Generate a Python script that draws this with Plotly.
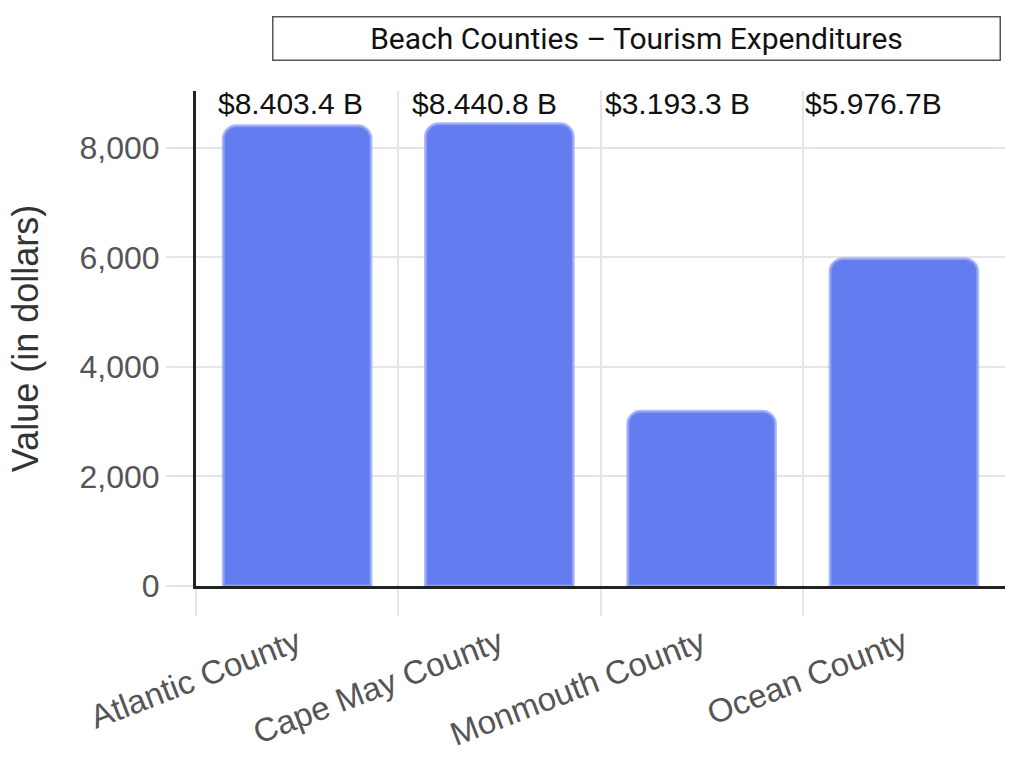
import plotly.graph_objects as go

# Tourism expenditures by beach county (millions of dollars)
counties = ["Atlantic County", "Cape May County", "Monmouth County", "Ocean County"]
values = [8403.4, 8440.8, 3193.3, 5976.7]
value_labels = ["$8.403.4 B", "$8.440.8 B", "$3.193.3 B", "$5.976.7B"]
label_offsets = [0.10, 0.06, 0.01, 0.0]   # label start inside each category slot

y_ticks = [0, 2000, 4000, 6000, 8000]
y_ticktext = ["0", "2,000", "4,000", "6,000", "8,000"]

positions = [i + 0.5 for i in range(len(counties))]
boundaries = [i for i in range(len(counties))]

sans = "Liberation Sans, Arial, Helvetica, sans-serif"
tick_font = dict(family=sans, size=32, color="#555555")

fig = go.Figure()
fig.add_trace(go.Bar(
    x=positions,
    y=values,
    width=0.73,
    marker=dict(color="#637cef", cornerradius=13,
                line=dict(color="rgba(150,166,245,0.75)", width=3)),
    hoverinfo="skip",
))

for i, (lab, off) in enumerate(zip(value_labels, label_offsets)):
    fig.add_annotation(
        x=boundaries[i] + off, y=1.0, xref="x", yref="paper",
        text=lab, showarrow=False, xanchor="left", yanchor="top",
        yshift=6,
        font=dict(family=sans, size=30, color="#111111"),
    )

fig.add_annotation(
    x=0.544, y=1.107, xref="paper", yref="paper",
    text="Beach Counties \u2013 Tourism Expenditures",
    showarrow=False, xanchor="center", yanchor="middle",
    width=722, height=38, align="center",
    bordercolor="#555555", borderwidth=1.5, borderpad=2,
    font=dict(family="Liberation Sans Narrow, Roboto, sans-serif", size=30, color="#111111"),
)

fig.update_layout(
    width=1015, height=757,
    margin=dict(l=196, r=10, t=91, b=171, autoexpand=False),
    plot_bgcolor="white", paper_bgcolor="white",
    showlegend=False,
    xaxis=dict(
        range=[0, len(counties)], automargin=False,
        tickmode="array", tickvals=positions, ticktext=counties,
        tickangle=-21, tickfont=dict(family=sans, size=33, color="#555555"),
        ticks="outside", ticklen=22, tickcolor="rgba(0,0,0,0)",
        showgrid=False, zeroline=False,
        showline=True, linecolor="#222222", linewidth=3,
        minor=dict(tickmode="array", tickvals=boundaries, showgrid=True,
                   gridcolor="#e4e4ea", gridwidth=2,
                   ticks="outside", ticklen=27, tickcolor="#e4e4ea", tickwidth=2),
    ),
    yaxis=dict(
        range=[0, 9040], automargin=False,
        tickmode="array", tickvals=y_ticks, ticktext=y_ticktext,
        tickfont=tick_font,
        ticks="outside", ticklen=27, tickcolor="#e4e4ea", tickwidth=2,
        showgrid=True, gridcolor="#e4e4ea", gridwidth=2,
        zeroline=False,
        showline=True, linecolor="#222222", linewidth=3,
        title=dict(text="Value (in dollars)", standoff=30,
                   font=dict(family=sans, size=36, color="#333333")),
    ),
)

fig.write_html("out.html")
